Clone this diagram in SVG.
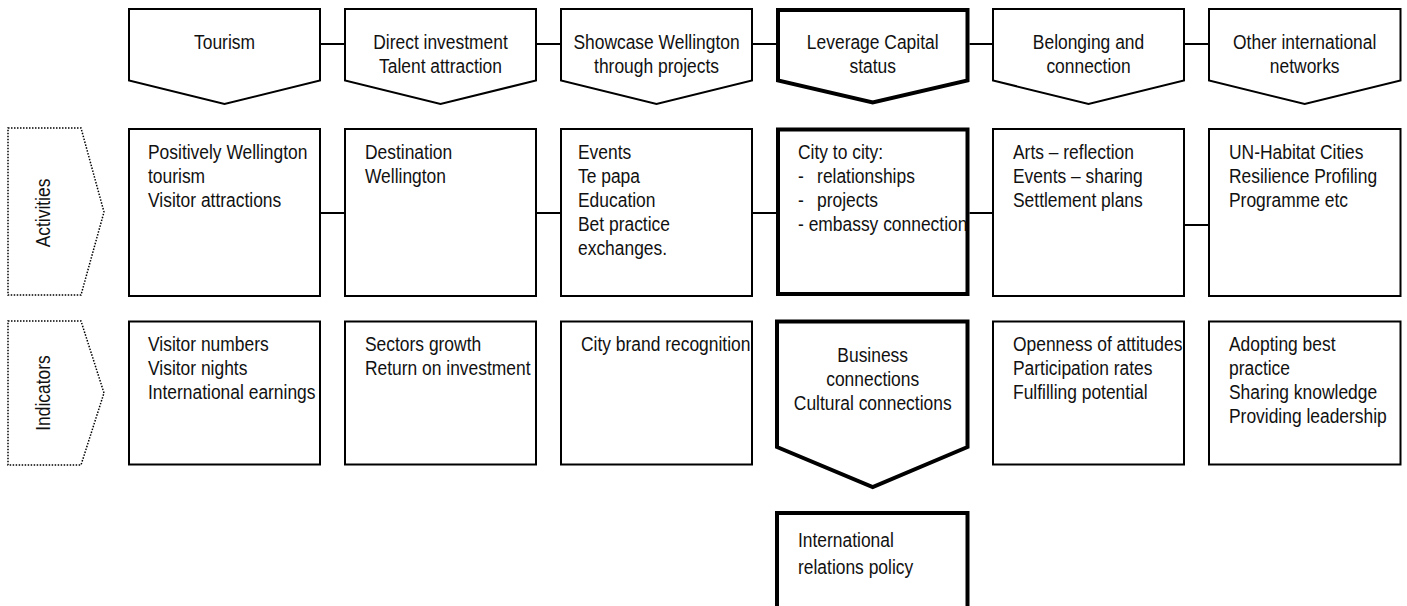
<svg xmlns="http://www.w3.org/2000/svg" width="1407" height="606" viewBox="0 0 1407 606">
  <style>
    .bg { fill: #ffffff; }
    .box { fill: #ffffff; stroke: #000; stroke-width: 2; stroke-linejoin: miter; }
    .key { fill: #ffffff; stroke: #000; stroke-width: 4; stroke-linejoin: miter; }
    .side { fill: none; stroke: #000; stroke-width: 1.5; stroke-dasharray: 1.5 1.5; }
    .link { stroke: #000; stroke-width: 2; fill: none; }
    text { font-family: "Liberation Sans", Arial, sans-serif; font-size: 21px; fill: #111; }
    .mid { text-anchor: middle; }
  </style>
  <rect class="bg" x="0" y="0" width="1407" height="606"/>

  <!-- connectors between the columns -->
  <g id="connectors">
    <line class="link" x1="320" y1="44" x2="345" y2="44"/>
    <line class="link" x1="536" y1="44" x2="561" y2="44"/>
    <line class="link" x1="752" y1="44" x2="776" y2="44"/>
    <line class="link" x1="969.5" y1="44" x2="993" y2="44"/>
    <line class="link" x1="1184" y1="44" x2="1209" y2="44"/>
    <line class="link" x1="320" y1="213" x2="345" y2="213"/>
    <line class="link" x1="536" y1="213" x2="561" y2="213"/>
    <line class="link" x1="752" y1="213" x2="776" y2="213"/>
    <line class="link" x1="969.5" y1="213" x2="993" y2="213"/>
    <line class="link" x1="1184" y1="225" x2="1209" y2="225"/>
  </g>

  <!-- row labels -->
  <g id="label-activities">
    <polygon class="side" points="8,128 81,128 104,212 81,295 8,295"/>
    <g transform="translate(50,213) rotate(-90) scale(0.83 1)"><text class="mid" x="0" y="0">Activities</text></g>
  </g>
  <g id="label-indicators">
    <polygon class="side" points="8,321 81,321 104,393 81,465 8,465"/>
    <g transform="translate(50,393) rotate(-90) scale(0.83 1)"><text class="mid" x="0" y="0">Indicators</text></g>
  </g>

  <!-- headline chevrons -->
  <g id="head-tourism">
    <polygon class="box" points="129,9 320,9 320,80.5 224.5,104 129,80.5"/>
    <g transform="translate(224.5,49) scale(0.83 1)"><text class="mid">Tourism</text></g>
  </g>
  <g id="head-investment">
    <polygon class="box" points="345,9 536,9 536,80.5 440.5,104 345,80.5"/>
    <g transform="translate(440.5,49) scale(0.83 1)"><text class="mid"><tspan x="0" y="0">Direct investment</tspan><tspan x="0" y="24">Talent attraction</tspan></text></g>
  </g>
  <g id="head-showcase">
    <polygon class="box" points="561,9 752,9 752,80.5 656.5,104 561,80.5"/>
    <g transform="translate(656.5,49) scale(0.83 1)"><text class="mid"><tspan x="0" y="0">Showcase Wellington</tspan><tspan x="0" y="24">through projects</tspan></text></g>
  </g>
  <g id="head-capital">
    <polygon class="key" points="778,10 967.5,10 967.5,80.5 872.7,102.5 778,80.5"/>
    <g transform="translate(872.7,49) scale(0.83 1)"><text class="mid"><tspan x="0" y="0">Leverage Capital</tspan><tspan x="0" y="24">status</tspan></text></g>
  </g>
  <g id="head-belonging">
    <polygon class="box" points="993,9 1184,9 1184,80.5 1088.5,104 993,80.5"/>
    <g transform="translate(1088.5,49) scale(0.83 1)"><text class="mid"><tspan x="0" y="0">Belonging and</tspan><tspan x="0" y="24">connection</tspan></text></g>
  </g>
  <g id="head-networks">
    <polygon class="box" points="1209,9 1400.5,9 1400.5,80.5 1304.7,104 1209,80.5"/>
    <g transform="translate(1304.7,49) scale(0.83 1)"><text class="mid"><tspan x="0" y="0">Other international</tspan><tspan x="0" y="24">networks</tspan></text></g>
  </g>

  <!-- activities row -->
  <g id="act-tourism">
    <rect class="box" x="129" y="129" width="191" height="167"/>
    <g transform="translate(148,159) scale(0.83 1)"><text><tspan x="0" y="0">Positively Wellington</tspan><tspan x="0" y="24">tourism</tspan><tspan x="0" y="48">Visitor attractions</tspan></text></g>
  </g>
  <g id="act-investment">
    <rect class="box" x="345" y="129" width="191" height="167"/>
    <g transform="translate(365,159) scale(0.83 1)"><text><tspan x="0" y="0">Destination</tspan><tspan x="0" y="24">Wellington</tspan></text></g>
  </g>
  <g id="act-showcase">
    <rect class="box" x="561" y="129" width="191" height="167"/>
    <g transform="translate(578,159) scale(0.83 1)"><text><tspan x="0" y="0">Events</tspan><tspan x="0" y="24">Te papa</tspan><tspan x="0" y="48">Education</tspan><tspan x="0" y="72">Bet practice</tspan><tspan x="0" y="96">exchanges.</tspan></text></g>
  </g>
  <g id="act-capital">
    <rect class="key" x="778" y="129.5" width="189.5" height="164.5"/>
    <g transform="translate(798,159) scale(0.83 1)"><text><tspan x="0" y="0">City to city:</tspan><tspan x="0" y="24">-</tspan><tspan x="23" y="24">relationships</tspan><tspan x="0" y="48">-</tspan><tspan x="23" y="48">projects</tspan><tspan x="0" y="72">- embassy connection</tspan></text></g>
  </g>
  <g id="act-belonging">
    <rect class="box" x="993" y="129" width="191" height="167"/>
    <g transform="translate(1013,159) scale(0.83 1)"><text><tspan x="0" y="0">Arts – reflection</tspan><tspan x="0" y="24">Events – sharing</tspan><tspan x="0" y="48">Settlement plans</tspan></text></g>
  </g>
  <g id="act-networks">
    <rect class="box" x="1209" y="129" width="191.5" height="167"/>
    <g transform="translate(1229,159) scale(0.83 1)"><text><tspan x="0" y="0">UN-Habitat Cities</tspan><tspan x="0" y="24">Resilience Profiling</tspan><tspan x="0" y="48">Programme etc</tspan></text></g>
  </g>

  <!-- indicators row -->
  <g id="ind-tourism">
    <rect class="box" x="129" y="321.5" width="191" height="143"/>
    <g transform="translate(148,351) scale(0.83 1)"><text><tspan x="0" y="0">Visitor numbers</tspan><tspan x="0" y="24">Visitor nights</tspan><tspan x="0" y="48">International earnings</tspan></text></g>
  </g>
  <g id="ind-investment">
    <rect class="box" x="345" y="321.5" width="191" height="143"/>
    <g transform="translate(365,351) scale(0.83 1)"><text><tspan x="0" y="0">Sectors growth</tspan><tspan x="0" y="24">Return on investment</tspan></text></g>
  </g>
  <g id="ind-showcase">
    <rect class="box" x="561" y="321.5" width="191" height="143"/>
    <g transform="translate(581,351) scale(0.83 1)"><text>City brand recognition</text></g>
  </g>
  <g id="ind-capital">
    <polygon class="key" points="777,321.5 967.5,321.5 967.5,447 872.7,487 777,447"/>
    <g transform="translate(872.7,362) scale(0.83 1)"><text class="mid"><tspan x="0" y="0">Business</tspan><tspan x="0" y="24">connections</tspan><tspan x="0" y="48">Cultural connections</tspan></text></g>
  </g>
  <g id="ind-belonging">
    <rect class="box" x="993" y="321.5" width="191" height="143"/>
    <g transform="translate(1013,351) scale(0.83 1)"><text><tspan x="0" y="0">Openness of attitudes</tspan><tspan x="0" y="24">Participation rates</tspan><tspan x="0" y="48">Fulfilling potential</tspan></text></g>
  </g>
  <g id="ind-networks">
    <rect class="box" x="1209" y="321.5" width="191.5" height="143"/>
    <g transform="translate(1229,351) scale(0.83 1)"><text><tspan x="0" y="0">Adopting best</tspan><tspan x="0" y="24">practice</tspan><tspan x="0" y="48">Sharing knowledge</tspan><tspan x="0" y="72">Providing leadership</tspan></text></g>
  </g>

  <!-- outcome -->
  <g id="policy">
    <rect class="key" x="777" y="513" width="190.5" height="110"/>
    <g transform="translate(798,547) scale(0.83 1)"><text><tspan x="0" y="0">International</tspan><tspan x="0" y="27">relations policy</tspan></text></g>
  </g>
</svg>
